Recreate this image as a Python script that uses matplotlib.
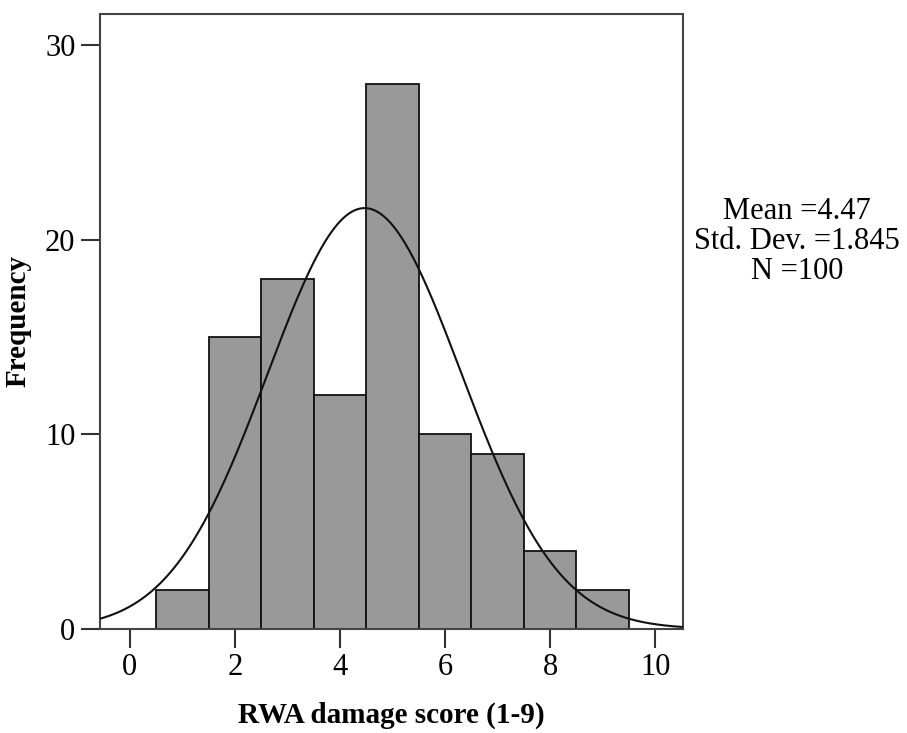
import numpy as np
import matplotlib.pyplot as plt

plt.rcParams['font.family'] = ['Liberation Serif', 'DejaVu Serif']

# histogram bins (score centres) and counts
scores = [1, 2, 3, 4, 5, 6, 7, 8, 9]
counts = [2, 15, 18, 12, 28, 10, 9, 4, 2]
mean = 4.47
sd = 1.845
n = 100

fig = plt.figure(figsize=(9.07, 7.33), dpi=100)
ax = fig.add_axes([0.110, 0.142, 0.643, 0.839])

ax.bar(scores, counts, width=1.0, color='#999999', edgecolor='#111111', linewidth=1.3, zorder=2)

x = np.linspace(-0.6, 10.6, 400)
y = n * 1.0 / (sd * np.sqrt(2 * np.pi)) * np.exp(-0.5 * ((x - mean) / sd) ** 2)
ax.plot(x, y, color='#111111', linewidth=1.5, zorder=3)

ax.set_xlim(-0.57, 10.53)
ax.set_ylim(0, 31.6)
ax.set_xticks([0, 2, 4, 6, 8, 10])
ax.set_yticks([0, 10, 20, 30])
for s in ax.spines.values():
    s.set_color('#444444')
    s.set_linewidth(1.5)
ax.tick_params(direction='out', length=14, width=1.5, color='#333333', labelsize=22)

ax.set_xlabel('RWA damage score (1-9)', fontsize=21, fontweight='bold', labelpad=14)
ax.set_ylabel('Frequency', fontsize=21, fontweight='bold', labelpad=10)

fig.text(0.879, 0.671, 'Mean =4.47\nStd. Dev. =1.845\nN =100', ha='center', va='center',
         fontsize=22, linespacing=1.05)

plt.savefig('out.png')
